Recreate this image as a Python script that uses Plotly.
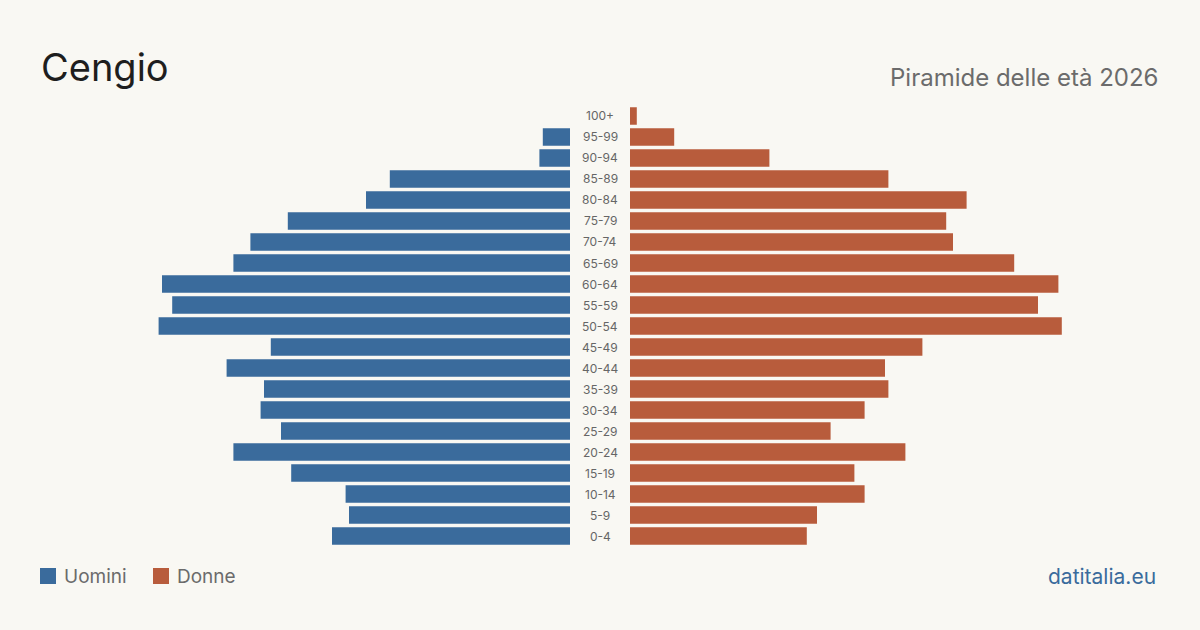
import plotly.graph_objects as go

age_groups = ["0-4", "5-9", "10-14", "15-19", "20-24", "25-29", "30-34", "35-39",
              "40-44", "45-49", "50-54", "55-59", "60-64", "65-69", "70-74", "75-79",
              "80-84", "85-89", "90-94", "95-99", "100+"]
uomini = [70, 65, 66, 82, 99, 85, 91, 90, 101, 88, 121, 117, 120, 99, 94, 83, 60, 53, 9, 8, 0]
donne = [52, 55, 69, 66, 81, 59, 69, 76, 75, 86, 127, 120, 126, 113, 95, 93, 99, 76, 41, 13, 2]

PX_PER_UNIT = 3.4
BG = "#f9f8f3"
BLUE = "#3a6b9c"
ORANGE = "#b85c3c"
FONT = "Inter"

max_units = 135
W, H = 1200, 630
left_end = 570
right_start = 630
span_px = max_units * PX_PER_UNIT

fig = go.Figure()
fig.add_trace(go.Bar(y=age_groups, x=uomini, orientation="h", marker_color=BLUE,
                     marker_line_width=0,
                     name="Uomini", xaxis="x", yaxis="y", hoverinfo="x+y"))
fig.add_trace(go.Bar(y=age_groups, x=donne, orientation="h", marker_color=ORANGE,
                     marker_line_width=0,
                     name="Donne", xaxis="x2", yaxis="y", hoverinfo="x+y"))

for g in age_groups:
    fig.add_annotation(x=0.5, xref="paper", y=g, yref="y", text=g, showarrow=False,
                       font=dict(family=FONT, size=12, color="#666666"),
                       xanchor="center", yanchor="middle")

fig.add_annotation(x=39 / W, y=1 - 67 / H, xref="paper", yref="paper", text="Cengio",
                   showarrow=False, xanchor="left", yanchor="middle",
                   font=dict(family=FONT, size=38, color="#1e1e1e"))
fig.add_annotation(x=1160 / W, y=1 - 77 / H, xref="paper", yref="paper",
                   text="Piramide delle età 2026", showarrow=False,
                   xanchor="right", yanchor="middle",
                   font=dict(family=FONT, size=24, color="#6b6b6b"))
fig.add_annotation(x=1158 / W, y=1 - 576 / H, xref="paper", yref="paper",
                   text="datitalia.eu", showarrow=False, xanchor="right", yanchor="middle",
                   font=dict(family=FONT, size=21, color=BLUE))

# legend
for x0, color, label in [(40, BLUE, "Uomini"), (153, ORANGE, "Donne")]:
    fig.add_shape(type="rect", xref="paper", yref="paper",
                  x0=x0 / W, x1=(x0 + 16) / W, y0=1 - 584 / H, y1=1 - 568 / H,
                  fillcolor=color, line_width=0)
    fig.add_annotation(x=(x0 + 22) / W, y=1 - 576 / H, xref="paper", yref="paper",
                       text=label, showarrow=False, xanchor="left", yanchor="middle",
                       font=dict(family=FONT, size=19, color="#6b6b6b"))

fig.update_layout(
    width=W, height=H,
    margin=dict(l=0, r=0, t=0, b=0),
    paper_bgcolor=BG, plot_bgcolor=BG,
    showlegend=False,
    bargap=0.17,
    xaxis=dict(domain=[(left_end - span_px) / W, left_end / W], range=[max_units, 0],
               visible=False, fixedrange=True),
    xaxis2=dict(domain=[right_start / W, (right_start + span_px) / W], range=[0, max_units],
                visible=False, fixedrange=True),
    yaxis=dict(domain=[1 - 546.5 / H, 1 - 105.5 / H], range=[-0.5, 20.5],
               categoryorder="array", categoryarray=age_groups,
               visible=False, fixedrange=True),
)

fig.write_html("out.html")
